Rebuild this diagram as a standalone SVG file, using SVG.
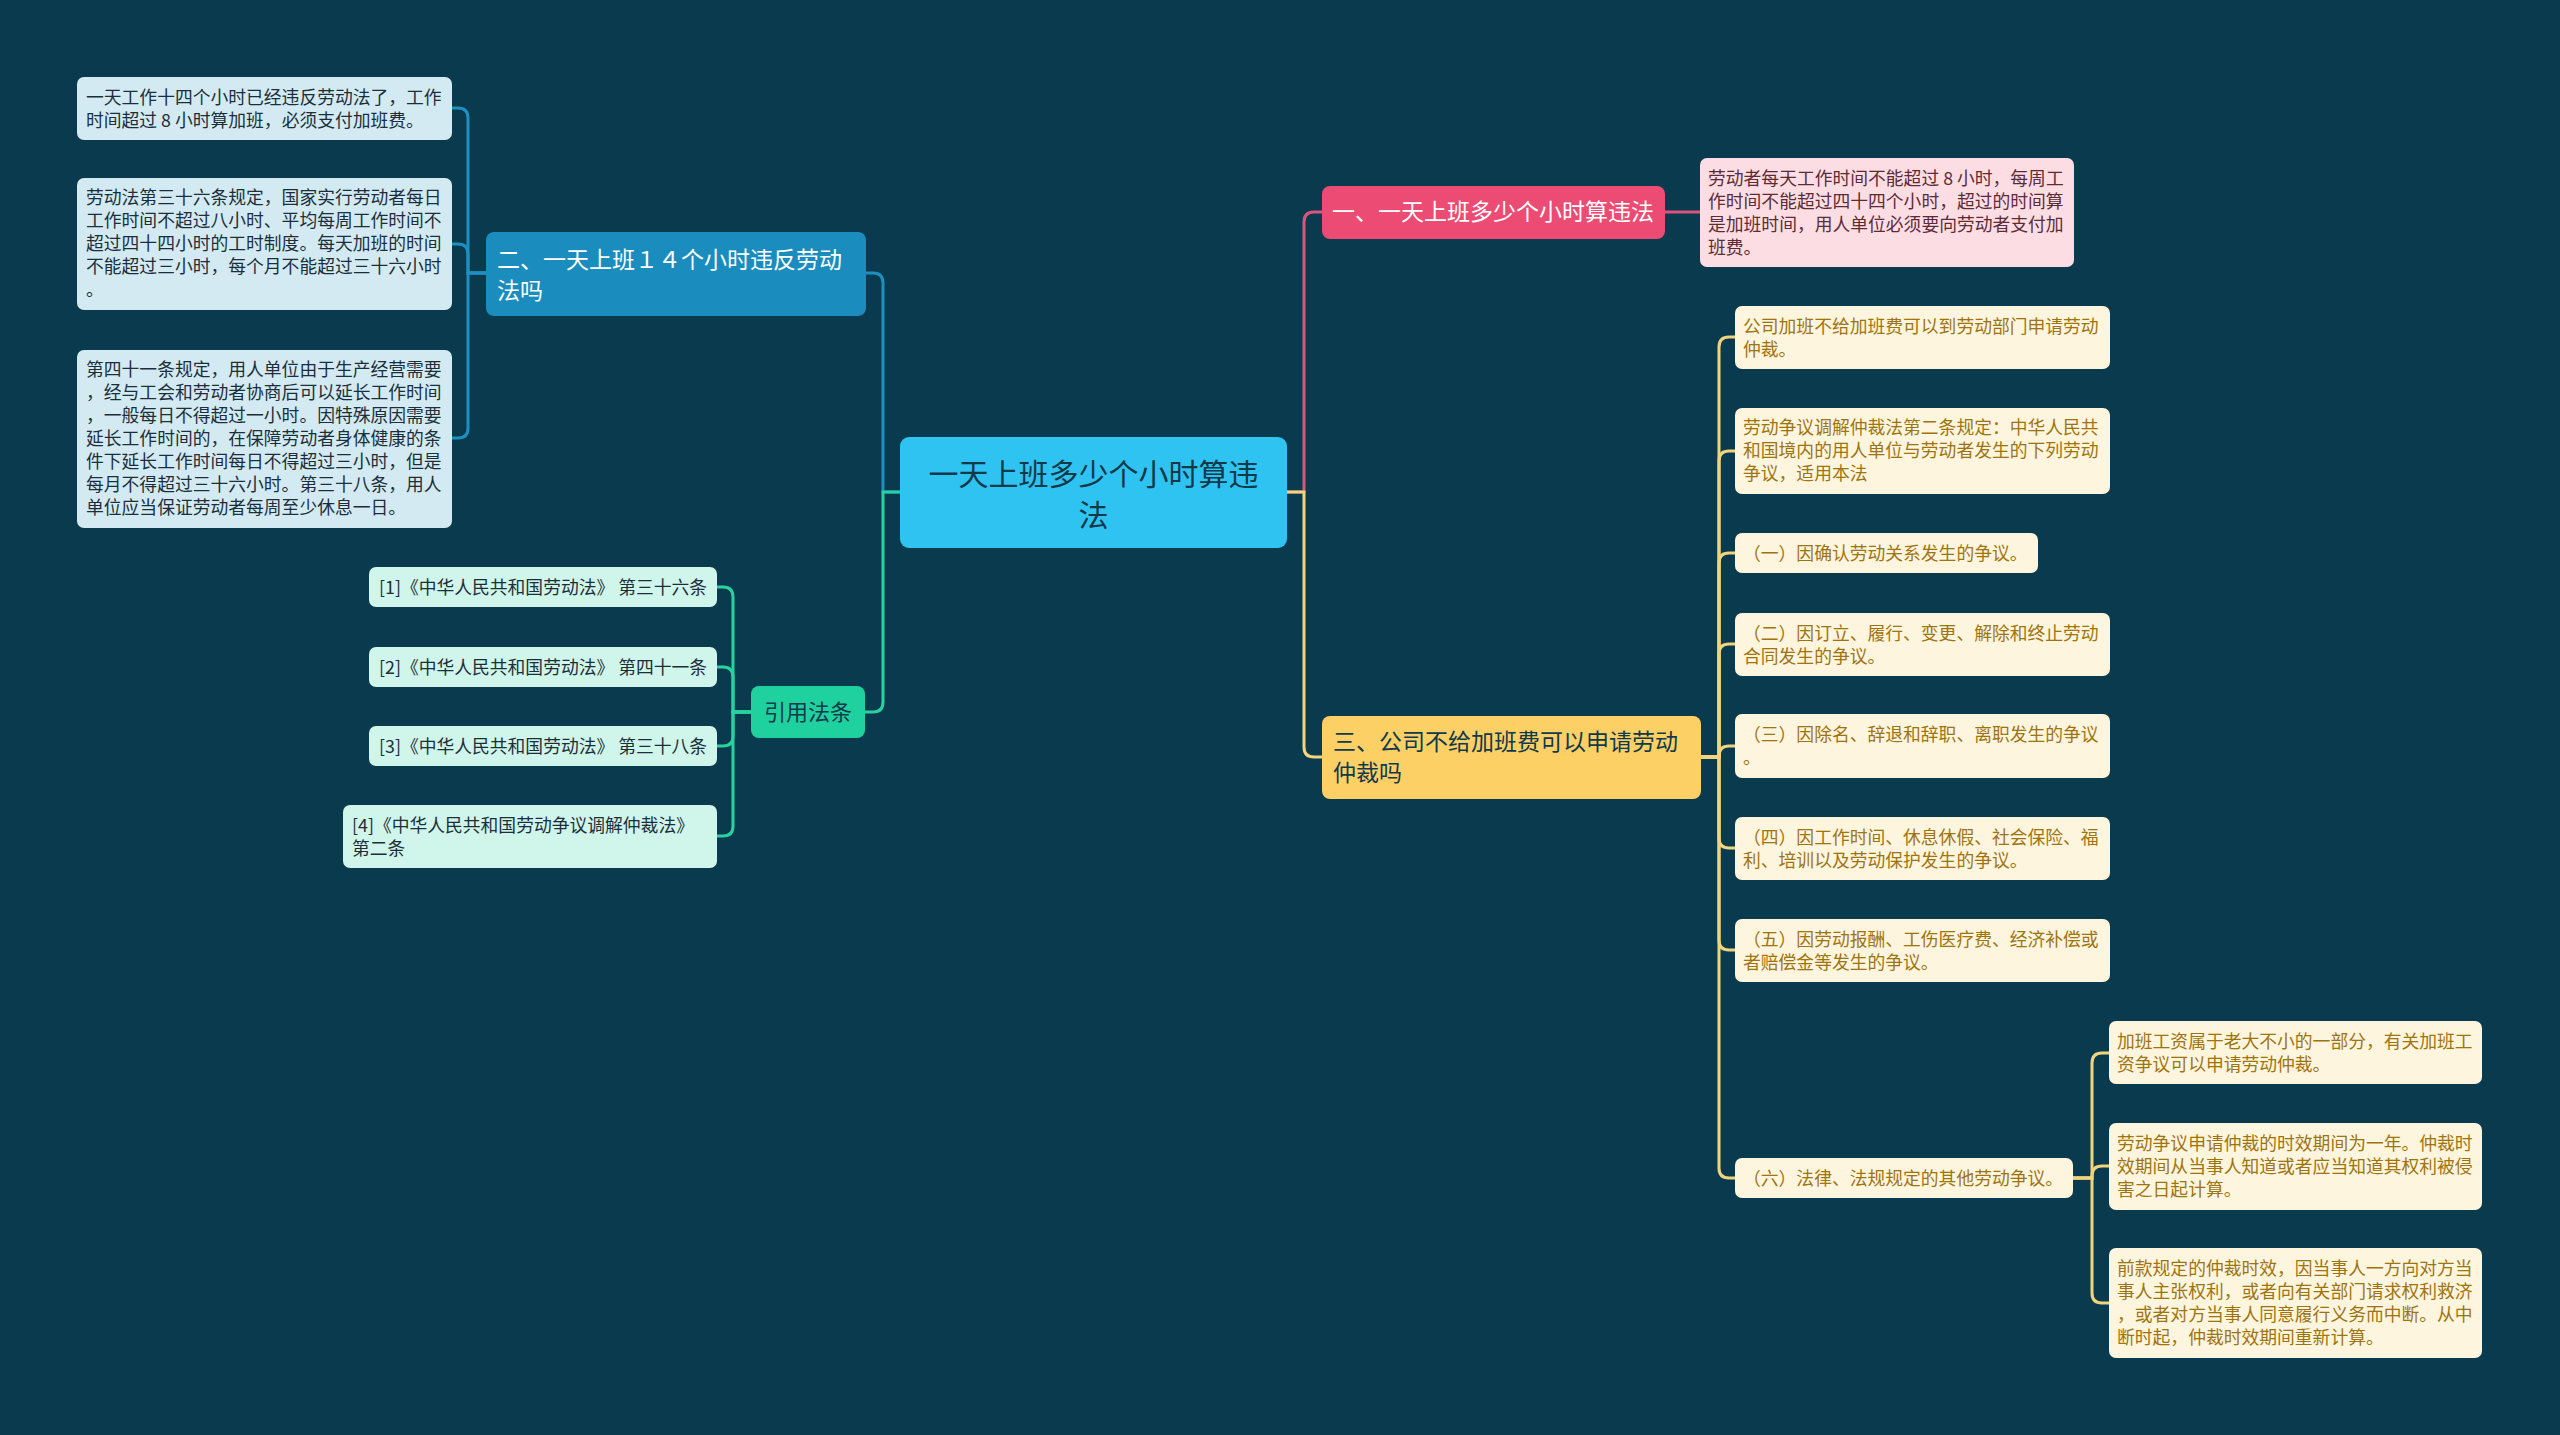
<svg xmlns="http://www.w3.org/2000/svg" width="2560" height="1435" viewBox="0 0 2560 1435">
<style>
text{font-family:"Noto Sans CJK SC","Noto Sans",sans-serif;}
.c{fill:none;stroke-width:3;}
.cb{stroke:#1d8fc0;}
.cg{stroke:#26d3a0;}
.cr{stroke:#d9557e;}
.cy{stroke:#f1d57c;}
.t18{font-size:17.8px;}
.t23{font-size:23px;}
.lb{fill:#d3eaf3;}
.lbt{fill:#1b2f3b;}
.lg{fill:#d0f5ea;}
.lgt{fill:#1b2f3b;}
.lr{fill:#fddde4;}
.lrt{fill:#5c2b36;}
.ly{fill:#fdf5dd;}
.lyt{fill:#9d7410;}
</style>
<rect width="2560" height="1435" fill="#0a3a4d"/>
<g id="connectors">
<path class="c cb" d="M900 492 H883 V283 Q883 273 873 273 H866"/>
<path class="c cg" d="M900 492 H883 V702 Q883 712 873 712 H865"/>
<path class="c cr" d="M1287 492 H1304 V222 Q1304 212 1314 212 H1322"/>
<path class="c cy" d="M1287 492 H1304 V747 Q1304 757 1314 757 H1322"/>
<path class="c cb" d="M486 273 H468 V118 Q468 108 458 108 H452"/>
<path class="c cb" d="M486 273 H468 V254 Q468 244 458 244 H452"/>
<path class="c cb" d="M486 273 H468 V428 Q468 438 458 438 H452"/>
<path class="c cg" d="M751 712 H733 V597 Q733 587 723 587 H717"/>
<path class="c cg" d="M751 712 H733 V677 Q733 667 723 667 H717"/>
<path class="c cg" d="M751 712 H733 V736 Q733 746 723 746 H717"/>
<path class="c cg" d="M751 712 H733 V826 Q733 836 723 836 H717"/>
<path class="c cr" d="M1665 212 H1700"/>
<path class="c cy" d="M1701 757 H1719 V347 Q1719 337 1729 337 H1735"/>
<path class="c cy" d="M1701 757 H1719 V461 Q1719 451 1729 451 H1735"/>
<path class="c cy" d="M1701 757 H1719 V563 Q1719 553 1729 553 H1735"/>
<path class="c cy" d="M1701 757 H1719 V654 Q1719 644 1729 644 H1735"/>
<path class="c cy" d="M1701 757 H1719 V756 Q1719 746 1729 746 H1735"/>
<path class="c cy" d="M1701 757 H1719 V838 Q1719 848 1729 848 H1735"/>
<path class="c cy" d="M1701 757 H1719 V940 Q1719 950 1729 950 H1735"/>
<path class="c cy" d="M1701 757 H1719 V1168 Q1719 1178 1729 1178 H1735"/>
<path class="c cy" d="M2073 1178 H2092 V1063 Q2092 1053 2102 1053 H2109"/>
<path class="c cy" d="M2073 1178 H2092 V1176 Q2092 1166 2102 1166 H2109"/>
<path class="c cy" d="M2073 1178 H2092 V1293 Q2092 1303 2102 1303 H2109"/>
</g>
<g id="center">
<rect x="900" y="437" width="387" height="111" rx="9" fill="#2fc3f1"/>
<text x="1093.5" y="485" font-size="30" fill="#10394a" text-anchor="middle">一天上班多少个小时算违</text>
<text x="1093.5" y="526" font-size="30" fill="#10394a" text-anchor="middle">法</text>
</g>
<g id="n2">
<rect x="486" y="232" width="380" height="84" rx="8" fill="#1a8cbd"/>
<text class="t23" x="497" y="268" fill="#ffffff">二、一天上班１４个小时违反劳动</text>
<text class="t23" x="497" y="299" fill="#ffffff">法吗</text>
</g>
<g id="n2a">
<rect class="lb" x="77" y="77" width="375" height="63" rx="7"/>
<text class="t18 lbt" x="86" y="104">一天工作十四个小时已经违反劳动法了，工作</text>
<text class="t18 lbt" x="86" y="127">时间超过 8 小时算加班，必须支付加班费。</text>
</g>
<g id="n2b">
<rect class="lb" x="77" y="178" width="375" height="132" rx="7"/>
<text class="t18 lbt" x="86" y="204">劳动法第三十六条规定，国家实行劳动者每日</text>
<text class="t18 lbt" x="86" y="227">工作时间不超过八小时、平均每周工作时间不</text>
<text class="t18 lbt" x="86" y="250">超过四十四小时的工时制度。每天加班的时间</text>
<text class="t18 lbt" x="86" y="273">不能超过三小时，每个月不能超过三十六小时</text>
<text class="t18 lbt" x="86" y="296">。</text>
</g>
<g id="n2c">
<rect class="lb" x="77" y="350" width="375" height="178" rx="7"/>
<text class="t18 lbt" x="86" y="376">第四十一条规定，用人单位由于生产经营需要</text>
<text class="t18 lbt" x="86" y="399">，经与工会和劳动者协商后可以延长工作时间</text>
<text class="t18 lbt" x="86" y="422">，一般每日不得超过一小时。因特殊原因需要</text>
<text class="t18 lbt" x="86" y="445">延长工作时间的，在保障劳动者身体健康的条</text>
<text class="t18 lbt" x="86" y="468">件下延长工作时间每日不得超过三小时，但是</text>
<text class="t18 lbt" x="86" y="491">每月不得超过三十六小时。第三十八条，用人</text>
<text class="t18 lbt" x="86" y="514">单位应当保证劳动者每周至少休息一日。</text>
</g>
<g id="refs">
<rect x="751" y="686" width="114" height="52" rx="8" fill="#1fd19f"/>
<text x="808" y="720" font-size="22" fill="#10394a" text-anchor="middle">引用法条</text>
</g>
<g id="ref1">
<rect class="lg" x="369" y="567" width="348" height="40" rx="7"/>
<text class="t18 lgt" x="379" y="594">[1]《中华人民共和国劳动法》 第三十六条</text>
</g>
<g id="ref2">
<rect class="lg" x="369" y="647" width="348" height="40" rx="7"/>
<text class="t18 lgt" x="379" y="674">[2]《中华人民共和国劳动法》 第四十一条</text>
</g>
<g id="ref3">
<rect class="lg" x="369" y="726" width="348" height="40" rx="7"/>
<text class="t18 lgt" x="379" y="753">[3]《中华人民共和国劳动法》 第三十八条</text>
</g>
<g id="ref4">
<rect class="lg" x="343" y="805" width="374" height="63" rx="7"/>
<text class="t18 lgt" x="352" y="832">[4]《中华人民共和国劳动争议调解仲裁法》</text>
<text class="t18 lgt" x="352" y="855">第二条</text>
</g>
<g id="n1">
<rect x="1322" y="186" width="343" height="53" rx="8" fill="#ec4b74"/>
<text class="t23" x="1332" y="220" fill="#ffffff">一、一天上班多少个小时算违法</text>
</g>
<g id="n1a">
<rect class="lr" x="1700" y="158" width="374" height="109" rx="7"/>
<text class="t18 lrt" x="1708" y="185">劳动者每天工作时间不能超过 8 小时，每周工</text>
<text class="t18 lrt" x="1708" y="208">作时间不能超过四十四个小时，超过的时间算</text>
<text class="t18 lrt" x="1708" y="231">是加班时间，用人单位必须要向劳动者支付加</text>
<text class="t18 lrt" x="1708" y="254">班费。</text>
</g>
<g id="n3">
<rect x="1322" y="716" width="379" height="83" rx="8" fill="#fdd066"/>
<text class="t23" x="1333" y="750" fill="#10394a">三、公司不给加班费可以申请劳动</text>
<text class="t23" x="1333" y="781" fill="#10394a">仲裁吗</text>
</g>
<g id="n3a">
<rect class="ly" x="1735" y="306" width="375" height="63" rx="7"/>
<text class="t18 lyt" x="1743" y="333">公司加班不给加班费可以到劳动部门申请劳动</text>
<text class="t18 lyt" x="1743" y="356">仲裁。</text>
</g>
<g id="n3b">
<rect class="ly" x="1735" y="408" width="375" height="86" rx="7"/>
<text class="t18 lyt" x="1743" y="434">劳动争议调解仲裁法第二条规定：中华人民共</text>
<text class="t18 lyt" x="1743" y="457">和国境内的用人单位与劳动者发生的下列劳动</text>
<text class="t18 lyt" x="1743" y="480">争议，适用本法</text>
</g>
<g id="n3c">
<rect class="ly" x="1735" y="533" width="303" height="40" rx="7"/>
<text class="t18 lyt" x="1743" y="560">（一）因确认劳动关系发生的争议。</text>
</g>
<g id="n3d">
<rect class="ly" x="1735" y="613" width="375" height="63" rx="7"/>
<text class="t18 lyt" x="1743" y="640">（二）因订立、履行、变更、解除和终止劳动</text>
<text class="t18 lyt" x="1743" y="663">合同发生的争议。</text>
</g>
<g id="n3e">
<rect class="ly" x="1735" y="714" width="375" height="64" rx="7"/>
<text class="t18 lyt" x="1743" y="741">（三）因除名、辞退和辞职、离职发生的争议</text>
<text class="t18 lyt" x="1743" y="764">。</text>
</g>
<g id="n3f">
<rect class="ly" x="1735" y="817" width="375" height="63" rx="7"/>
<text class="t18 lyt" x="1743" y="844">（四）因工作时间、休息休假、社会保险、福</text>
<text class="t18 lyt" x="1743" y="867">利、培训以及劳动保护发生的争议。</text>
</g>
<g id="n3g">
<rect class="ly" x="1735" y="919" width="375" height="63" rx="7"/>
<text class="t18 lyt" x="1743" y="946">（五）因劳动报酬、工伤医疗费、经济补偿或</text>
<text class="t18 lyt" x="1743" y="969">者赔偿金等发生的争议。</text>
</g>
<g id="n3h">
<rect class="ly" x="1735" y="1158" width="338" height="40" rx="7"/>
<text class="t18 lyt" x="1743" y="1185">（六）法律、法规规定的其他劳动争议。</text>
</g>
<g id="n3h1">
<rect class="ly" x="2109" y="1021" width="373" height="63" rx="7"/>
<text class="t18 lyt" x="2117" y="1048">加班工资属于老大不小的一部分，有关加班工</text>
<text class="t18 lyt" x="2117" y="1071">资争议可以申请劳动仲裁。</text>
</g>
<g id="n3h2">
<rect class="ly" x="2109" y="1123" width="373" height="87" rx="7"/>
<text class="t18 lyt" x="2117" y="1150">劳动争议申请仲裁的时效期间为一年。仲裁时</text>
<text class="t18 lyt" x="2117" y="1173">效期间从当事人知道或者应当知道其权利被侵</text>
<text class="t18 lyt" x="2117" y="1196">害之日起计算。</text>
</g>
<g id="n3h3">
<rect class="ly" x="2109" y="1248" width="373" height="110" rx="7"/>
<text class="t18 lyt" x="2117" y="1275">前款规定的仲裁时效，因当事人一方向对方当</text>
<text class="t18 lyt" x="2117" y="1298">事人主张权利，或者向有关部门请求权利救济</text>
<text class="t18 lyt" x="2117" y="1321">，或者对方当事人同意履行义务而中断。从中</text>
<text class="t18 lyt" x="2117" y="1344">断时起，仲裁时效期间重新计算。</text>
</g>
</svg>
